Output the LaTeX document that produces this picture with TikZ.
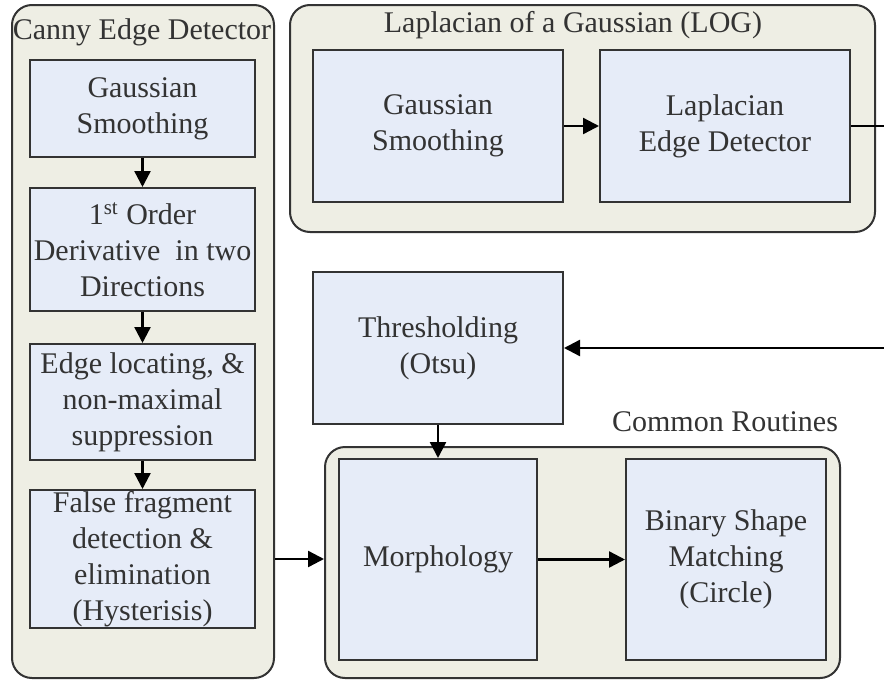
\documentclass[tikz,border=0pt]{standalone}
\usepackage{fontspec}
\setmainfont{Liberation Serif}
\usetikzlibrary{arrows.meta}
\definecolor{boxfill}{HTML}{E6ECF8}
\definecolor{groupfill}{HTML}{EEEEE4}
\definecolor{edgegray}{HTML}{333333}
\begin{document}
\begin{tikzpicture}[x=0.5pt, y=-0.5pt,
    every node/.style={font=\fontsize{15}{18}\selectfont},
    group/.style={draw=edgegray, fill=groupfill, line width=1pt, rounded corners=10pt, inner sep=0pt},
    stage/.style={draw=edgegray, fill=boxfill, line width=1pt, align=center, inner sep=0pt, text=black!80},
    title/.style={text=black!80, inner sep=0pt},
    flow/.style={-{Triangle[length=8pt, width=8pt]}, line width=1.2pt, black}]
    \useasboundingbox (0,0) rectangle (884,680);
    % group panels
    \node[group, minimum width=131pt, minimum height=336.5pt] (canny) at (143, 341.5) {};
    \node[group, minimum width=292.5pt, minimum height=113.5pt] (log) at (582.5, 118.5) {};
    \node[group, minimum width=257.5pt, minimum height=115.5pt] (common) at (582.5, 562.5) {};
    \node[title] (cannytitle) at (142, 32) {Canny Edge Detector};
    \node[title] (logtitle) at (573, 25) {Laplacian of a Gaussian (LOG)};
    \node[title] (commontitle) at (725, 422) {Common Routines};
    % canny stages
    \node[stage, minimum width=112.5pt, minimum height=48.5pt] (cgauss) at (142.5, 108.5) {Gaussian\\Smoothing};
    \node[stage, minimum width=112.5pt, minimum height=61.5pt] (cderiv) at (142.5, 249.5) {1\textsuperscript{st} Order\\Derivative \ in two\\Directions};
    \node[stage, minimum width=112.5pt, minimum height=58pt] (cedge) at (142.5, 402) {Edge locating, \&\\non-maximal\\suppression};
    \node[stage, minimum width=112.5pt, minimum height=69pt] (cfalse) at (142.5, 559) {False fragment\\detection \&\\elimination\\(Hysterisis)};
    % log stages
    \node[stage, minimum width=125pt, minimum height=76pt] (lgauss) at (438, 126) {Gaussian\\Smoothing};
    \node[stage, minimum width=125pt, minimum height=76pt] (llap) at (725, 126) {Laplacian\\Edge Detector};
    % common stages
    \node[stage, minimum width=125pt, minimum height=76pt] (thresh) at (438, 348) {Thresholding\\(Otsu)};
    \node[stage, minimum width=99pt, minimum height=100.5pt] (morph) at (438, 559.5) {Morphology};
    \node[stage, minimum width=100pt, minimum height=100.5pt] (shape) at (726, 559.5) {Binary Shape\\Matching\\(Circle)};
    \coordinate (logout) at (884, 126);
    \coordinate (threshin) at (884, 348);
    % connectors
    \draw[flow] (cgauss) -- (cderiv);
    \draw[flow] (cderiv) -- (cedge);
    \draw[flow] (cedge) -- (cfalse);
    \draw[flow] (cfalse.east -| canny.east) -- (cfalse.east -| common.west);
    \draw[flow] (lgauss) -- (llap);
    \draw[line width=1.2pt] (llap.east) -- (logout);
    \draw[flow] (threshin) -- (thresh.east);
    \draw[flow] (thresh) -- (morph);
    \draw[flow] (morph) -- (shape);
\end{tikzpicture}
\end{document}
